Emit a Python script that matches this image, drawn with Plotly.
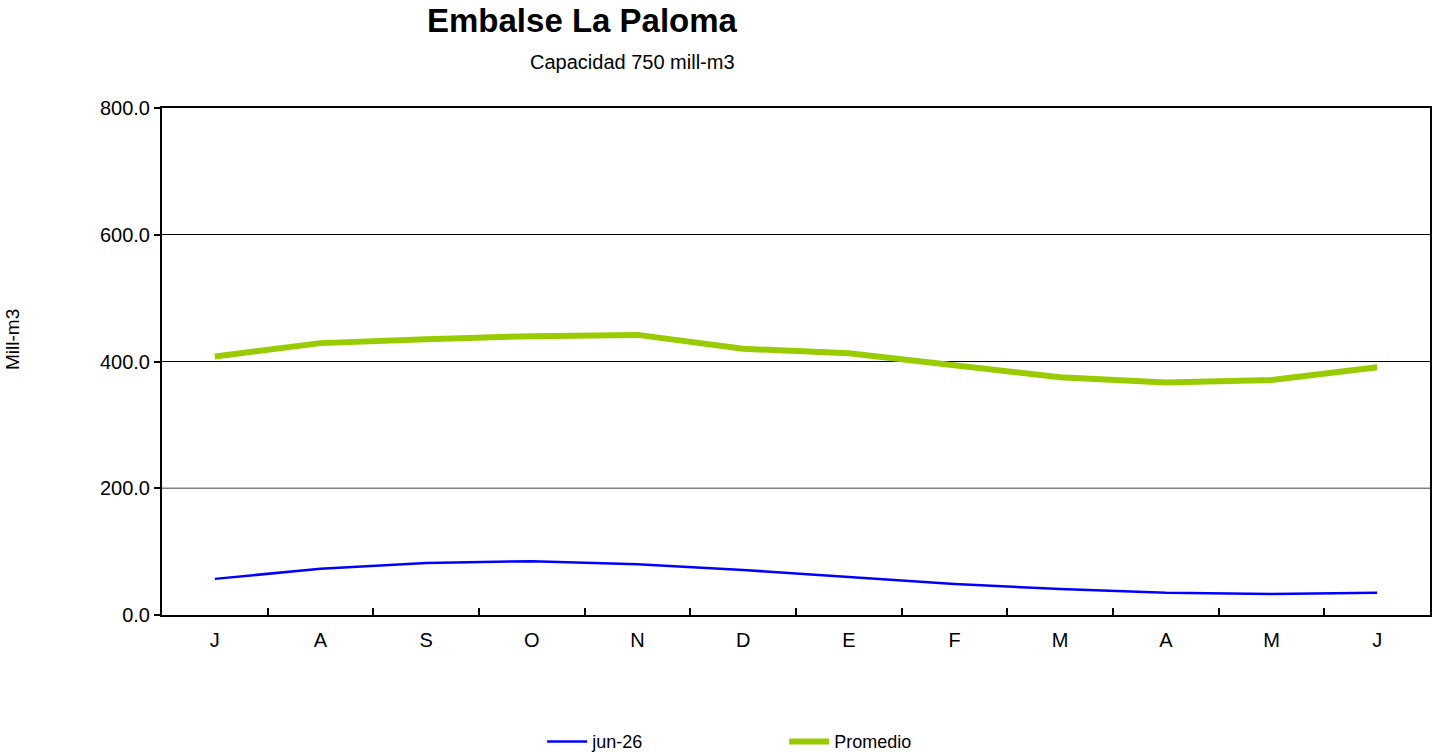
import plotly.graph_objects as go

months = ["J", "A", "S", "O", "N", "D", "E", "F", "M", "A", "M", "J"]
actual = [57, 73, 82, 85, 80, 71, 60, 49, 41, 35, 33, 35]
promedio = [408, 429, 435, 440, 442, 420, 413, 393, 375, 367, 371, 391]
yticks = [0, 200, 400, 600, 800]

x = list(range(len(months)))
font = "Liberation Sans, Arial, sans-serif"

fig = go.Figure()
fig.add_trace(go.Scatter(x=x, y=actual, mode="lines", name="jun-26",
                         line=dict(color="#0000FF", width=2.5)))
fig.add_trace(go.Scatter(x=x, y=promedio, mode="lines", name="Promedio",
                         line=dict(color="#99CC00", width=6)))

fig.add_shape(type="line", xref="paper", yref="y", x0=0, x1=1, y0=200, y1=200,
              line=dict(color="#808080", width=1.5), layer="above")

fig.update_layout(
    width=1436, height=756,
    margin=dict(l=162, r=6, t=108, b=141, autoexpand=False),
    paper_bgcolor="white", plot_bgcolor="white",
    font=dict(family=font, color="black", size=20),
    showlegend=True,
    legend=dict(orientation="h", x=0.2998, xanchor="left", y=-0.250, yanchor="middle",
                font=dict(size=18), entrywidth=187, entrywidthmode="pixels",
                itemwidth=40, tracegroupgap=0),
    annotations=[
        dict(text="<b>Embalse La Paloma</b>", xref="paper", yref="paper",
             x=(582 - 162) / 1268, y=1 + 108 / 507, xanchor="center", yanchor="top",
             showarrow=False, font=dict(size=33)),
        dict(text="Capacidad 750 mill-m3", xref="paper", yref="paper",
             x=(632 - 162) / 1268, y=1 + (108 - 62) / 507, xanchor="center", yanchor="middle",
             showarrow=False, font=dict(size=20)),
        dict(text="Mill-m3", xref="paper", yref="paper",
             x=(12 - 162) / 1268, y=1 - (340 - 108) / 507, xanchor="center", yanchor="middle",
             textangle=-90, showarrow=False, font=dict(size=19)),
    ],
)

fig.update_xaxes(
    tickmode="array", tickvals=x, ticktext=months,
    range=[-0.5, len(months) - 0.5],
    showgrid=False, showline=True, linecolor="black", linewidth=2, mirror=True,
    ticks="", zeroline=False, ticklabelstandoff=6,
)
# boundary tick marks between categories via minor ticks
fig.update_xaxes(minor=dict(tickmode="array", tickvals=[i + 0.5 for i in x[:-1]],
                            ticks="inside", ticklen=7, tickcolor="black", tickwidth=2))

fig.update_yaxes(
    range=[0, 800], tickmode="array", tickvals=yticks,
    ticktext=[f"{v:.1f}" for v in yticks],
    showgrid=True, gridcolor="black", gridwidth=1,
    showline=True, linecolor="black", linewidth=2, mirror=True,
    ticks="outside", ticklen=6, tickcolor="black", tickwidth=1.5,
    zeroline=False,
)

fig.write_html("out.html", config={"displayModeBar": False},
               post_script="document.body.style.margin='0';document.body.style.overflow='hidden';")
